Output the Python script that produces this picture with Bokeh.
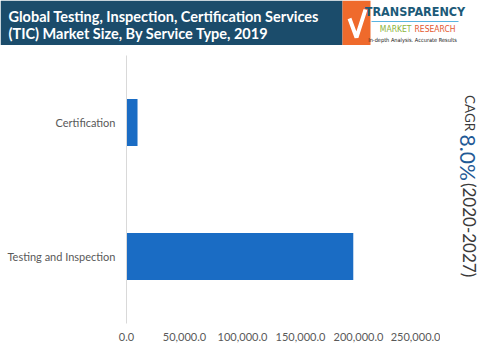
import math
from bokeh.plotting import figure
from bokeh.layouts import column, row
from bokeh.models import Range1d, FactorRange, FixedTicker, NumeralTickFormatter, ColumnDataSource
from bokeh.core.properties import value
from bokeh.embed import file_html
from bokeh.resources import INLINE

# ---- data ----
categories = ["Certification", "Testing and Inspection"]
market_size = [9500, 195500]
x_ticks = [0, 50000, 100000, 150000, 200000, 250000]
title_lines = ["Global Testing, Inspection, Certification Services",
               "(TIC) Market Size, By Service Type, 2019"]
cagr_parts = ["CAGR", "8.0%", "(2020-2027)"]

FONT = "Lato"
NARROW = "DejaVu Sans Condensed"
BAR = "#1a6cc4"
BANNER = "#1b4c6b"

# ---- banner ----
top = figure(width=494, height=45, x_range=Range1d(0, 494), y_range=Range1d(45, 0),
             output_backend="svg", toolbar_location=None, min_border=0)
top.axis.visible = False
top.grid.visible = False
top.outline_line_color = None
top.quad(left=0, right=342, top=0, bottom=45, color=BANNER, line_color=None)
top.text(x=[8, 8], y=[16, 33], text=title_lines, text_color="white",
         text_font=value(FONT), text_font_style="bold", text_font_size="14.5px",
         text_baseline="middle", text_align="left")
# logo
top.quad(left=342, right=370, top=0, bottom=45, color="#ef6a2c", line_color=None)
top.line(x=[349, 356, 365], y=[18, 37, 9], line_color="white", line_width=4)
top.text(x=[414.5], y=[11], text=["TRANSPARENCY"], text_color="#1c5a78",
         text_font=value(NARROW), text_font_style="bold",
         text_font_size="12.5px", text_baseline="middle", text_align="center")
top.line(x=[371, 458], y=[21, 21], line_color="#5ab4e0", line_width=1)
top.text(x=[411], y=[28], text=["MARKET"], text_color="#8cb43c",
         text_font=value(NARROW), text_font_size="8.5px",
         text_baseline="middle", text_align="right")
top.text(x=[414], y=[28], text=["RESEARCH"], text_color="#e4572e",
         text_font=value(NARROW), text_font_size="8.5px",
         text_baseline="middle", text_align="left")
top.text(x=[412], y=[39], text=["In-depth Analysis. Accurate Results"], text_color="#222222",
         text_font=value(NARROW), text_font_size="5.6px",
         text_baseline="middle", text_align="center")

# ---- main chart ----
src = ColumnDataSource(dict(cat=categories, val=market_size))
p = figure(width=440, height=307, y_range=FactorRange(factors=categories[::-1]),
           x_range=Range1d(0, 270690), output_backend="svg", toolbar_location=None,
           min_border_left=126, min_border_right=0, min_border_top=10, min_border_bottom=29)
p.hbar(y="cat", right="val", left=0, height=0.35, source=src, color=BAR, line_color=None)
p.grid.visible = False
p.outline_line_color = None
p.xaxis.ticker = FixedTicker(ticks=x_ticks)
p.xaxis.formatter = NumeralTickFormatter(format="0,0.0")
p.xaxis.axis_line_color = None
p.xaxis.major_tick_line_color = None
p.xaxis.minor_tick_line_color = None
p.xaxis.major_tick_out = 0
p.xaxis.major_label_standoff = 9
p.yaxis.axis_line_color = "#d9d9d9"
p.yaxis.major_tick_line_color = None
p.yaxis.major_tick_out = 0
p.yaxis.major_label_standoff = 11
for ax in (p.xaxis, p.yaxis):
    ax.major_label_text_font = FONT
    ax.major_label_text_font_size = "11px"
    ax.major_label_text_color = "#595959"

# ---- CAGR side ----
side = figure(width=54, height=307, x_range=Range1d(0, 54), y_range=Range1d(307, 0),
              output_backend="svg", toolbar_location=None, min_border=0)
side.axis.visible = False
side.grid.visible = False
side.outline_line_color = None
side.text(x=[29], y=[66], text=[cagr_parts[0]], angle=-math.pi / 2, text_color="#3a3a3a",
          text_font=value(FONT), text_font_size="13.5px", text_baseline="middle", text_align="center")
side.text(x=[28], y=[117], text=[cagr_parts[1]], angle=-math.pi / 2, text_color="#1f5a96",
          text_font=value(FONT), text_font_size="21px", text_baseline="middle", text_align="center")
side.text(x=[29], y=[200], text=[cagr_parts[2]], angle=-math.pi / 2, text_color="#3a3a3a",
          text_font=value(FONT), text_font_size="17px", text_baseline="middle", text_align="center")

layout = column(top, row(p, side, spacing=0), spacing=0)
open("out.html", "w").write(file_html(layout, INLINE))
